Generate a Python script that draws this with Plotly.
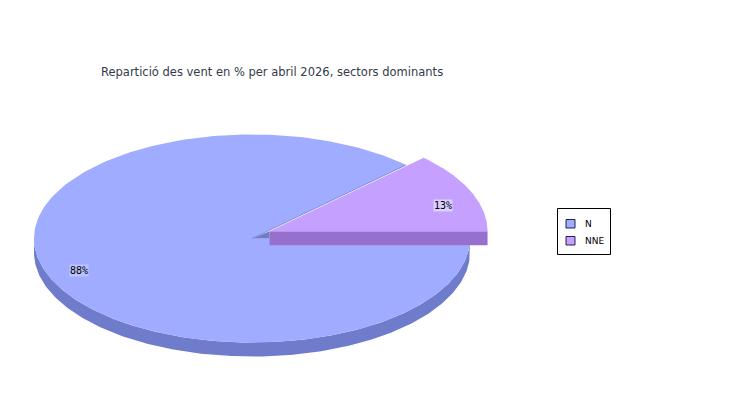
import math
import plotly.graph_objects as go

# ---- data ----
categories = ["N", "NNE"]
values = [87.5, 12.5]
exploded = [False, True]
title_text = "Repartició des vent en % per abril 2026, sectors dominants"

top_colors = ["#A0ACFF", "#C5A0FF"]
side_colors = ["#6F7BCB", "#9670CC"]
label_bg = ["#BAC3FF", "#DCCFFF"]

# ---- geometry of the 3D pie (pixel space of the 750x400 page) ----
CX, CY = 252.0, 238.5
RX, RY = 218.0, 104.0
DEPTH = 14.0
EXPLODE = 19.0
PAGE_OFF = 8  # default body margin of the page


def ell(cx, cy, ang):
    a = math.radians(ang)
    return cx + RX * math.cos(a), cy - RY * math.sin(a)


def arc(cx, cy, a0, a1, n=200):
    return [ell(cx, cy, a0 + (a1 - a0) * i / n) for i in range(n + 1)]


total = sum(values)
slices = []
start = 0.0
for idx in list(range(len(values)))[::-1]:
    span = 360.0 * values[idx] / total
    slices.append((idx, start, start + span))
    start += span

fig = go.Figure()


def poly(pts, color):
    xs = [p[0] for p in pts] + [pts[0][0]]
    ys = [p[1] for p in pts] + [pts[0][1]]
    fig.add_trace(go.Scatter(
        x=xs, y=ys, mode="lines", fill="toself", fillcolor=color,
        line=dict(color=color, width=0), hoverinfo="skip", showlegend=False))


centers = {}
for idx, a0, a1 in slices:
    mid = (a0 + a1) / 2
    if exploded[idx]:
        cx = CX + EXPLODE * math.cos(math.radians(mid))
        cy = CY - EXPLODE * math.sin(math.radians(mid))
    else:
        cx, cy = CX, CY
    centers[idx] = (cx, cy, a0, a1, mid)

draw_order = [i for i in centers if not exploded[i]] + [i for i in centers if exploded[i]]
for idx in draw_order:
    cx, cy, a0, a1, mid = centers[idx]
    lo, hi = max(a0, 180.0), min(a1, 360.0)
    if hi > lo:
        top = arc(cx, cy, lo, hi)
        bot = [(x, y + DEPTH) for x, y in top[::-1]]
        poly(top + bot, side_colors[idx])
    if a0 == 0.0:
        rim = ell(cx, cy, 0.0)
        poly([(cx, cy), rim, (rim[0], rim[1] + DEPTH), (cx, cy + DEPTH)], side_colors[idx])
    poly([(cx, cy)] + arc(cx, cy, a0, a1), top_colors[idx])
    if not exploded[idx]:
        e = ell(cx, cy, a0)
        fig.add_trace(go.Scatter(x=[cx, e[0]], y=[cy, e[1]], mode="lines",
                                 line=dict(color=side_colors[idx], width=0.8),
                                 hoverinfo="skip", showlegend=False))

for idx in centers:
    if exploded[idx]:
        ex, ey = centers[idx][0], centers[idx][1]
        poly([(CX, CY), (ex, ey), (ex, CY)], side_colors[0])

annotations = []
for idx in centers:
    cx, cy, a0, a1, mid = centers[idx]
    lx = cx + 0.86 * RX * math.cos(math.radians(mid))
    ly = cy - 0.72 * RY * math.sin(math.radians(mid)) + 3
    pct = values[idx] / total * 100
    annotations.append(dict(x=lx, y=ly, text="%d%%" % math.floor(pct + 0.5), showarrow=False,
                            font=dict(family="DejaVu Sans Mono", size=10, color="#000000"),
                            bgcolor=label_bg[idx], borderpad=0, xref="x", yref="y"))

annotations.append(dict(text=title_text, x=99, y=72, xref="x", yref="y", xanchor="left",
                        yanchor="middle", showarrow=False,
                        font=dict(family="DejaVu Sans", size=11.5, color="#333a4a")))

# ---- legend drawn as layout decoration ----
LEG_X0, LEG_Y0, LEG_X1, LEG_Y1 = 557.5, 208.5, 610.5, 254.5
shapes = [dict(type="rect", xref="x", yref="y", x0=LEG_X0, y0=LEG_Y0, x1=LEG_X1, y1=LEG_Y1,
               line=dict(color="#000000", width=1), fillcolor="white", layer="below")]
for i, c in enumerate(categories):
    yc = 223.5 + 17 * i
    shapes.append(dict(type="rect", xref="x", yref="y", x0=566, y0=yc - 4, x1=575, y1=yc + 4.5,
                       line=dict(color="#222244", width=1), fillcolor=top_colors[i]))
    annotations.append(dict(text=c, x=583, y=yc, xref="x", yref="y", xanchor="left",
                            yanchor="middle", showarrow=False,
                            font=dict(family="DejaVu Sans", size=9, color="#000000")))

fig.update_layout(
    width=750 - PAGE_OFF, height=400 - PAGE_OFF,
    margin=dict(l=0, r=0, t=0, b=0),
    paper_bgcolor="white", plot_bgcolor="white",
    xaxis=dict(range=[PAGE_OFF, 750], visible=False, fixedrange=True),
    yaxis=dict(range=[400, PAGE_OFF], visible=False, fixedrange=True),
    showlegend=False,
    annotations=annotations,
    shapes=shapes,
)

fig.write_html("out.html")
